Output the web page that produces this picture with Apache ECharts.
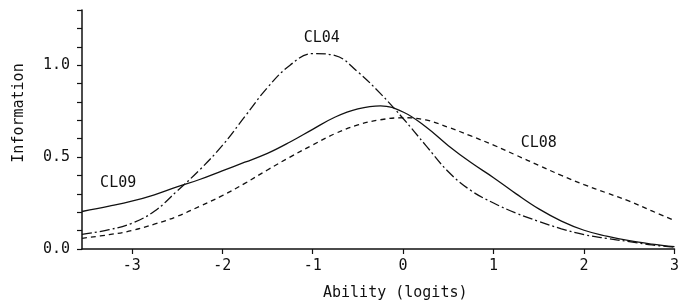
<!DOCTYPE html>
<html>
<head>
<meta charset="utf-8">
<script src="https://cdn.jsdelivr.net/npm/echarts@6/dist/echarts.min.js"></script>
<style>
  html, body { margin: 0; padding: 0; background: #fff; }
  #chart { width: 682px; height: 306px; }
</style>
</head>
<body>
<div id="chart"></div>
<script>
// ability values (logits) where the curves were read
const ability = [-3.55, -3.25, -3.0, -2.75, -2.5, -2.25, -2.0, -1.75, -1.5, -1.25, -1.0, -0.75, -0.5, -0.25,
  0, 0.25, 0.5, 0.75, 1.0, 1.25, 1.5, 1.75, 2.0, 2.25, 2.5, 2.75, 3.0];

// item information
const cl09 = [0.204, 0.233, 0.26, 0.295, 0.338, 0.378, 0.425, 0.472, 0.52, 0.582, 0.651, 0.718, 0.762, 0.779,
  0.745, 0.665, 0.562, 0.47, 0.388, 0.3, 0.218, 0.152, 0.102, 0.07, 0.045, 0.027, 0.013];
const cl04 = [0.08, 0.105, 0.14, 0.205, 0.315, 0.43, 0.562, 0.72, 0.878, 1.0, 1.063, 1.052, 0.963, 0.845,
  0.71, 0.564, 0.42, 0.318, 0.25, 0.195, 0.15, 0.11, 0.078, 0.058, 0.04, 0.022, 0.01];
const cl08 = [0.058, 0.078, 0.1, 0.135, 0.177, 0.232, 0.29, 0.357, 0.43, 0.5, 0.566, 0.628, 0.675, 0.703,
  0.714, 0.702, 0.662, 0.615, 0.565, 0.51, 0.455, 0.4, 0.35, 0.305, 0.26, 0.207, 0.155];

const xTicks = [-3, -2, -1, 0, 1, 2, 3];
const yLabels = [0, 0.5, 1.0];

// where each curve name sits, in data units
const labelAt = {
  CL09: [-3.15, 0.357],
  CL04: [-0.9, 1.148],
  CL08: [1.5, 0.574]
};

const font = 'DejaVu Sans Mono';
const ink = '#111';

const pairs = (ys) => ability.map((x, i) => [x, ys[i]]);

const makeSeries = (name, ys, type) => ({
  name: name,
  type: 'line',
  data: pairs(ys),
  smooth: 0.4,
  showSymbol: false,
  lineStyle: { color: ink, width: 1.3, type: type },
  markPoint: {
    symbol: 'circle',
    symbolSize: 1,
    itemStyle: { color: 'rgba(0,0,0,0)' },
    label: { show: true, position: 'inside', formatter: name, color: ink, fontFamily: font, fontSize: 15 },
    data: [{ coord: labelAt[name] }]
  },
  silent: true
});

const chart = echarts.init(document.getElementById('chart'));

chart.setOption({
  animation: false,
  backgroundColor: '#fff',
  grid: { left: 82, right: 2, top: 10, bottom: 57 },
  xAxis: {
    type: 'value',
    min: -3.55,
    max: 3,
    name: 'Ability (logits)',
    nameLocation: 'middle',
    nameGap: 37,
    nameTextStyle: { color: ink, fontFamily: font, fontSize: 15, padding: [0, 0, 0, 34] },
    axisLine: { show: true, onZero: false, lineStyle: { color: ink, width: 1.5 } },
    axisTick: { show: true, length: 5, customValues: xTicks, lineStyle: { color: ink, width: 1.2 } },
    axisLabel: { customValues: xTicks, margin: 10, color: ink, fontFamily: font, fontSize: 15 },
    splitLine: { show: false }
  },
  yAxis: {
    type: 'value',
    min: 0,
    max: 1.3,
    interval: 0.1,
    name: 'Information',
    nameLocation: 'middle',
    nameRotate: 90,
    nameGap: 55,
    nameTextStyle: { color: ink, fontFamily: font, fontSize: 15, padding: [0, 0, 0, 33] },
    axisLine: { show: true, onZero: false, lineStyle: { color: ink, width: 1.5 } },
    axisTick: { show: true, length: 5, lineStyle: { color: ink, width: 1.2 } },
    axisLabel: {
      margin: 12, color: ink, fontFamily: font, fontSize: 15,
      formatter: (v) => yLabels.some((l) => Math.abs(l - v) < 1e-6) ? v.toFixed(1) : ''
    },
    splitLine: { show: false }
  },
  series: [
    makeSeries('CL09', cl09, 'solid'),
    makeSeries('CL04', cl04, [10, 3, 2, 3]),
    makeSeries('CL08', cl08, [5, 4])
  ]
});
</script>
</body>
</html>
